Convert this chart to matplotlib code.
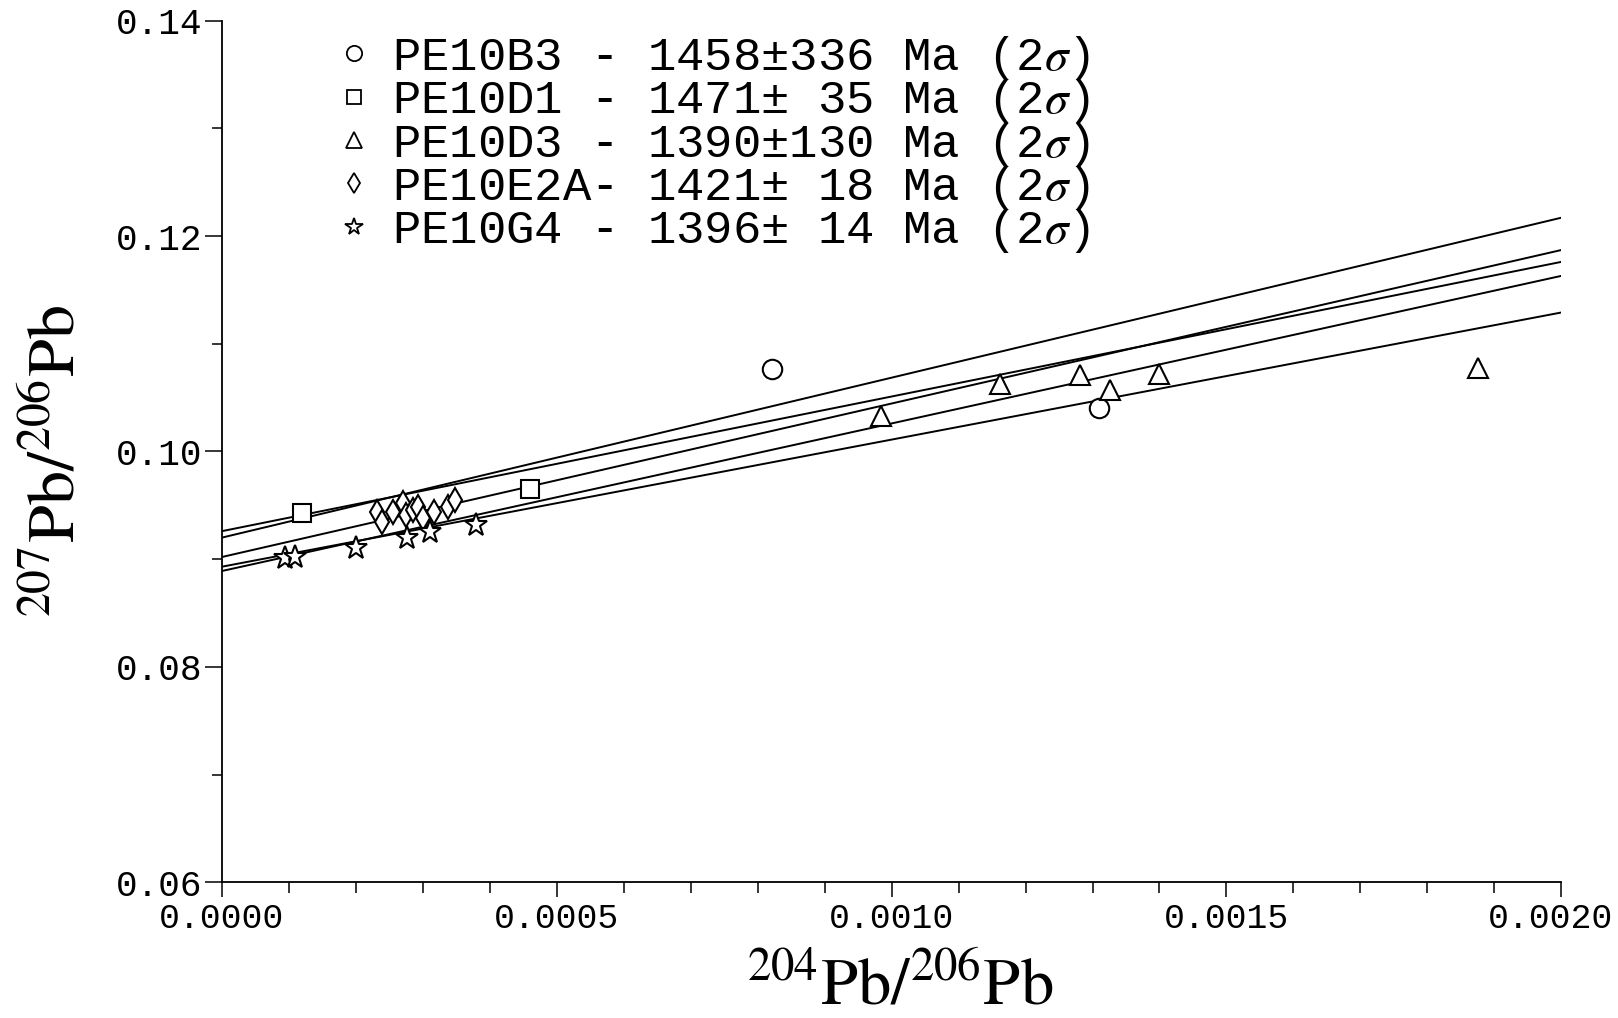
import matplotlib
matplotlib.use('Agg')
import matplotlib.pyplot as plt
from matplotlib.lines import Line2D
from matplotlib.ticker import MultipleLocator, FormatStrFormatter, FuncFormatter

plt.rcParams['mathtext.fontset'] = 'stix'

# ---------------- data ----------------
b3_x = [0.000821, 0.001309]
b3_y = [0.10763, 0.10401]

d1_x = [0.000119, 0.000460]
d1_y = [0.09426, 0.09649]

d3_x = [0.000984, 0.001162, 0.001282, 0.001326, 0.001399, 0.001876]
d3_y = [0.10329, 0.10626, 0.10710, 0.10571, 0.10719, 0.10772]

e2a_x = [0.000231, 0.000239, 0.000256, 0.000271, 0.000275, 0.000286,
         0.000293, 0.000301, 0.000316, 0.000338, 0.000348]
e2a_y = [0.09441, 0.09348, 0.09441, 0.09519, 0.09410, 0.09456,
         0.09487, 0.09379, 0.09441, 0.09487, 0.09549]

g4_x = [0.0000941, 0.000109, 0.000200, 0.000276, 0.000310, 0.000380]
g4_y = [0.09008, 0.09023, 0.09101, 0.09194, 0.09255, 0.09317]

samples = ['PE10B3', 'PE10D1', 'PE10D3', 'PE10E2A', 'PE10G4']
ages = [1458, 1471, 1390, 1421, 1396]
age_errs = [336, 35, 130, 18, 14]

# regression lines: value at x = 0 and at x = 0.002
line_x = [0.0, 0.002]
line_y0 = [0.0920, 0.0926, 0.0893, 0.0902, 0.0889]
line_y1 = [0.1217, 0.1176, 0.1129, 0.1187, 0.1163]

xs_all = [b3_x, d1_x, d3_x, e2a_x, g4_x]
ys_all = [b3_y, d1_y, d3_y, e2a_y, g4_y]

x_max = 0.002

# ---------------- styling ----------------
markers = ['o', 's', '^', 'd', '*']
msizes = [14.0, 12.5, 14.0, 12.5, 17.0]
leg_msizes = [11.0, 10.0, 11.0, 10.5, 13.0]
xtick_len, xtick_pad = 11, 3

fig = plt.figure(figsize=(16.18, 10.18), dpi=100)
ax = fig.add_axes([221.9 / 1618, 1 - 882.3 / 1018, 1339.4 / 1618, 861.7 / 1018])

for y0, y1 in zip(line_y0, line_y1):
    ax.plot(line_x, [y0, y1], color='black', lw=1.4, zorder=2, solid_capstyle='butt')

for xs, ys, m, ms in zip(xs_all, ys_all, markers, msizes):
    ax.plot(xs, ys, linestyle='none', marker=m, ms=ms, mfc='white',
            mec='black', mew=1.5, zorder=3)

ax.set_xlim(0, x_max)
ax.set_ylim(0.06, 0.14)
for s in ['top', 'right']:
    ax.spines[s].set_visible(False)
for s in ['left', 'bottom']:
    ax.spines[s].set_linewidth(1.3)

ax.xaxis.set_major_locator(MultipleLocator(0.0005))
ax.xaxis.set_minor_locator(MultipleLocator(0.0001))
ax.yaxis.set_major_locator(MultipleLocator(0.02))
ax.yaxis.set_minor_locator(MultipleLocator(0.01))
# the label of the last x tick sits at the figure edge; it is drawn separately below
ax.xaxis.set_major_formatter(FuncFormatter(
    lambda v, p: '' if abs(v - x_max) < 1e-9 else f'{v:.4f}'))
ax.yaxis.set_major_formatter(FormatStrFormatter('%.2f'))

ax.tick_params(axis='x', which='major', direction='out', length=xtick_len, width=1.1,
               pad=xtick_pad, labelsize=25, labelfontfamily='Liberation Mono')
ax.tick_params(axis='x', which='minor', direction='out', length=8, width=1.1)
ax.tick_params(axis='y', which='major', direction='out', length=12.5, width=1.1, pad=1.5,
               labelsize=26, labelfontfamily='Liberation Mono')
ax.tick_params(axis='y', which='minor', direction='out', length=7.5, width=1.1)

ax.annotate(f'{x_max:.4f}', xy=(x_max, 0), xycoords=('data', 'axes fraction'),
            xytext=(-8, -(xtick_len + xtick_pad)), textcoords='offset points',
            ha='center', va='top', fontsize=25, family='Liberation Mono',
            annotation_clip=False)

ax.set_xlabel(r'$^{204}\mathrm{Pb}/^{206}\mathrm{Pb}$', fontsize=48)
ax.xaxis.set_label_coords(0.506, -0.081)
ax.set_ylabel(r'$^{207}\mathrm{Pb}/^{206}\mathrm{Pb}$', fontsize=49)
ax.yaxis.set_label_coords(-0.100, 0.489)

# legend
handles = []
labels = []
for name, age, err, m, lms in zip(samples, ages, age_errs, markers, leg_msizes):
    handles.append(Line2D([], [], linestyle='none', marker=m, ms=lms, mfc='white',
                          mec='black', mew=1.3))
    sep = ' - ' if len(name) < 7 else '- '
    labels.append(f'{name:<6}{sep}{age}\u00b1{err:>3} Ma (2$\\sigma$)')

leg = ax.legend(handles, labels, loc='upper left',
                bbox_to_anchor=(335 / 1618, 1 - 34 / 1018),
                bbox_transform=fig.transFigure, frameon=False,
                prop={'family': 'Liberation Mono', 'size': 34},
                handlelength=0.8, handletextpad=0.4, labelspacing=-0.1,
                borderpad=0, borderaxespad=0)

fig.savefig('out.png', dpi=100, facecolor='white')
